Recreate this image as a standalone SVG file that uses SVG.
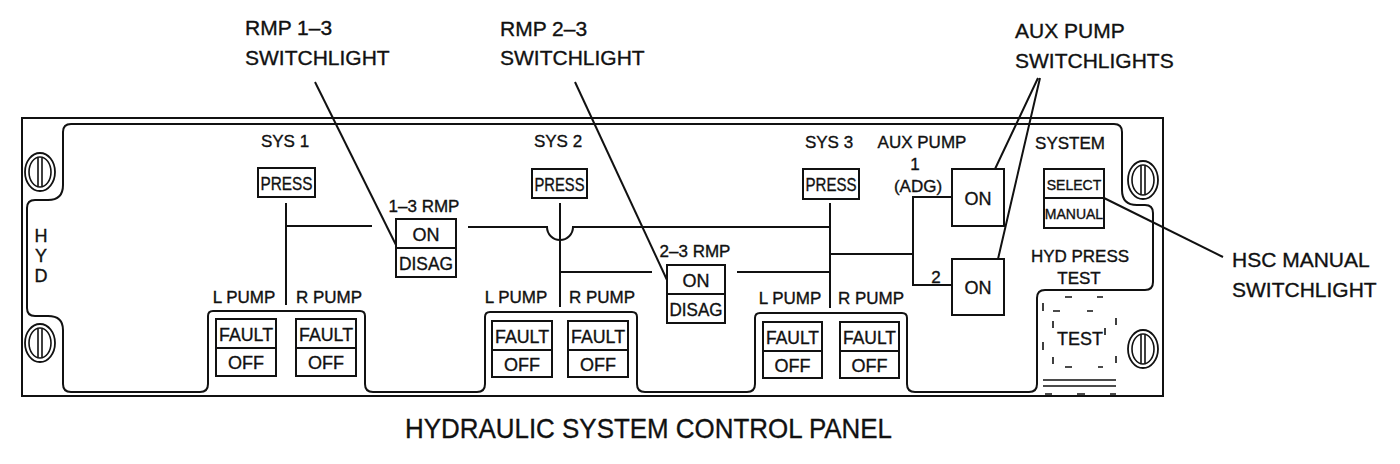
<svg xmlns="http://www.w3.org/2000/svg" width="1400" height="464" viewBox="0 0 1400 464">
<style>
.ln{stroke:#111;stroke-width:2;fill:none}
.bx{fill:#fff;stroke:#111;stroke-width:2}
.t{font-family:"Liberation Sans",Arial,sans-serif;fill:#111;stroke:#111;stroke-width:0.35;text-anchor:middle;font-size:17px}
.b{font-size:18px}
.s{font-size:14px}
.c{font-family:"Liberation Sans",Arial,sans-serif;fill:#111;stroke:#111;stroke-width:0.35;font-size:21px}
.d{stroke:#111;stroke-width:1.6;fill:none}
</style>
<defs>
<g id="screw">
<ellipse cx="0" cy="0" rx="15" ry="19" fill="#fff" stroke="#111" stroke-width="1.8"/>
<ellipse cx="0" cy="0" rx="11" ry="15" fill="none" stroke="#111" stroke-width="1.6"/>
<path d="M-2,-14V14M2,-14V14" stroke="#111" stroke-width="1.6"/>
</g>
</defs>
<rect width="1400" height="464" fill="#fff"/>

<g id="panel">
<rect class="ln" x="22" y="118" width="1141" height="278"/>
<path class="ln" d="M63,132 Q63,124 71,124 L1114,124 Q1122,124 1122,132 L1122,190 Q1122,205 1137,205 L1145,205 Q1153,205 1153,213 L1153,282 Q1153,290 1145,290 L1045,290 Q1037,290 1037,298 L1037,384 Q1037,392 1029,392 L915,392 Q907,392 907,384 L907,318 Q907,313 902,313 L760,313 Q755,313 755,318 L755,384 Q755,392 747,392 L645,392 Q637,392 637,384 L637,317 Q637,312 632,312 L490,312 Q485,312 485,317 L485,384 Q485,392 477,392 L373,392 Q365,392 365,384 L365,316 Q365,311 360,311 L213,311 Q208,311 208,316 L208,384 Q208,392 200,392 L71,392 Q63,392 63,384 L63,330 Q63,316 48,316 L35,316 Q27,316 27,308 L27,208 Q27,200 35,200 L48,200 Q63,200 63,185 Z"/>
<use href="#screw" x="40" y="172"/>
<use href="#screw" x="40" y="343"/>
<use href="#screw" x="1143" y="180"/>
<use href="#screw" x="1143" y="349"/>
<text class="t b" x="41" y="242">H</text>
<text class="t b" x="41" y="262">Y</text>
<text class="t b" x="41" y="282">D</text>
</g>

<g id="connectors">
<path class="ln" d="M286,203 V305 M286,226 H372"/>
<path class="ln" d="M468,227 H547 A13,13 0 0 0 573,227 H830"/>
<path class="ln" d="M560,203 V307 M560,272 H652 M737,272 H830"/>
<path class="ln" d="M830,203 V308 M830,254 H913"/>
<path class="ln" d="M952,197 H913 V285 H952"/>
</g>

<g id="callouts">
<path class="ln" d="M315,82 L396,245"/>
<path class="ln" d="M575,82 L667,280"/>
<path class="ln" d="M1038,78 L995,169 M1040,78 L998,259"/>
<path class="ln" d="M1104,198 L1223,257"/>
</g>

<g id="sys1">
<text class="t" x="285" y="147">SYS 1</text>
<rect class="bx" x="258" y="168" width="57" height="29"/>
<text class="t b" x="286.5" y="190" textLength="52" lengthAdjust="spacingAndGlyphs">PRESS</text>
<text class="t" x="244" y="303">L PUMP</text>
<text class="t" x="329" y="303">R PUMP</text>
</g>
<g id="sys1-lpump">
<rect class="bx" x="216" y="319" width="60" height="57"/>
<path class="ln" d="M216,348 H276"/>
<text class="t b" x="246" y="341" textLength="54" lengthAdjust="spacingAndGlyphs">FAULT</text>
<text class="t b" x="246" y="369">OFF</text>
</g>
<g id="sys1-rpump">
<rect class="bx" x="296" y="319" width="60" height="57"/>
<path class="ln" d="M296,348 H356"/>
<text class="t b" x="326" y="341" textLength="54" lengthAdjust="spacingAndGlyphs">FAULT</text>
<text class="t b" x="326" y="369">OFF</text>
</g>

<g id="rmp13">
<text class="t" x="424" y="212">1–3 RMP</text>
<rect class="bx" x="396" y="219" width="60" height="58"/>
<path class="ln" d="M396,248 H456"/>
<text class="t b" x="426" y="241">ON</text>
<text class="t b" x="426" y="270" textLength="54" lengthAdjust="spacingAndGlyphs">DISAG</text>
</g>

<g id="sys2">
<text class="t" x="558" y="147">SYS 2</text>
<rect class="bx" x="532" y="169" width="55" height="29"/>
<text class="t b" x="559.5" y="191" textLength="50" lengthAdjust="spacingAndGlyphs">PRESS</text>
<text class="t" x="516" y="303">L PUMP</text>
<text class="t" x="602" y="303">R PUMP</text>
</g>
<g id="sys2-lpump">
<rect class="bx" x="492" y="321" width="60" height="56"/>
<path class="ln" d="M492,350 H552"/>
<text class="t b" x="522" y="343" textLength="54" lengthAdjust="spacingAndGlyphs">FAULT</text>
<text class="t b" x="522" y="371">OFF</text>
</g>
<g id="sys2-rpump">
<rect class="bx" x="568" y="321" width="60" height="56"/>
<path class="ln" d="M568,350 H628"/>
<text class="t b" x="598" y="343" textLength="54" lengthAdjust="spacingAndGlyphs">FAULT</text>
<text class="t b" x="598" y="371">OFF</text>
</g>

<g id="rmp23">
<text class="t" x="695" y="257">2–3 RMP</text>
<rect class="bx" x="667" y="265" width="58" height="58"/>
<path class="ln" d="M667,294 H725"/>
<text class="t b" x="696" y="287">ON</text>
<text class="t b" x="696" y="316" textLength="53" lengthAdjust="spacingAndGlyphs">DISAG</text>
</g>

<g id="sys3">
<text class="t" x="829" y="148">SYS 3</text>
<rect class="bx" x="803" y="169" width="56" height="30"/>
<text class="t b" x="831" y="191" textLength="51" lengthAdjust="spacingAndGlyphs">PRESS</text>
<text class="t" x="790" y="304">L PUMP</text>
<text class="t" x="871" y="304">R PUMP</text>
</g>
<g id="sys3-lpump">
<rect class="bx" x="763" y="322" width="59" height="56"/>
<path class="ln" d="M763,351 H822"/>
<text class="t b" x="792.5" y="344" textLength="53" lengthAdjust="spacingAndGlyphs">FAULT</text>
<text class="t b" x="792.5" y="372">OFF</text>
</g>
<g id="sys3-rpump">
<rect class="bx" x="840" y="322" width="59" height="56"/>
<path class="ln" d="M840,351 H899"/>
<text class="t b" x="869.5" y="344" textLength="53" lengthAdjust="spacingAndGlyphs">FAULT</text>
<text class="t b" x="869.5" y="372">OFF</text>
</g>

<g id="aux-pump">
<text class="t" x="922" y="148">AUX PUMP</text>
<text class="t" x="915" y="170">1</text>
<text class="t" x="918" y="192">(ADG)</text>
<text class="t" x="936" y="283">2</text>
<rect class="bx" x="952" y="169" width="52" height="57"/>
<text class="t b" x="978" y="205">ON</text>
<rect class="bx" x="952" y="259" width="52" height="56"/>
<text class="t b" x="978" y="294">ON</text>
</g>

<g id="system">
<text class="t" x="1070" y="149">SYSTEM</text>
<rect class="bx" x="1044" y="169" width="60" height="59"/>
<path class="ln" d="M1044,198 H1104"/>
<text class="t s" x="1074" y="190">SELECT</text>
<text class="t s" x="1074" y="219">MANUAL</text>
</g>

<g id="hyd-press-test">
<text class="t" x="1080" y="262">HYD PRESS</text>
<text class="t" x="1079" y="284">TEST</text>
<path class="d" d="M1065,297 H1072 M1097,297 H1103 M1043,303 V311 M1043,342 V350 M1053,311 H1060 M1087,311 H1093 M1053,321 V328 M1053,357 V364 M1105,328 V335 M1116,318 V325 M1116,356 V363 M1065,367 H1072 M1098,367 H1103 M1045,394 H1052 M1077,394 H1085 M1110,394 H1116"/>
<path class="d" d="M1043,380 H1116 M1043,386 H1116"/>
<text class="t b" x="1080" y="345">TEST</text>
</g>

<g id="labels">
<text class="c" x="245" y="35">RMP 1–3</text>
<text class="c" x="245" y="65">SWITCHLIGHT</text>
<text class="c" x="500" y="36">RMP 2–3</text>
<text class="c" x="500" y="65">SWITCHLIGHT</text>
<text class="c" x="1015" y="38">AUX PUMP</text>
<text class="c" x="1015" y="68">SWITCHLIGHTS</text>
<text class="c" x="1232" y="267">HSC MANUAL</text>
<text class="c" x="1232" y="297">SWITCHLIGHT</text>
<text class="c" x="405" y="438" style="font-size:28px" textLength="487" lengthAdjust="spacingAndGlyphs">HYDRAULIC SYSTEM CONTROL PANEL</text>
</g>
</svg>
